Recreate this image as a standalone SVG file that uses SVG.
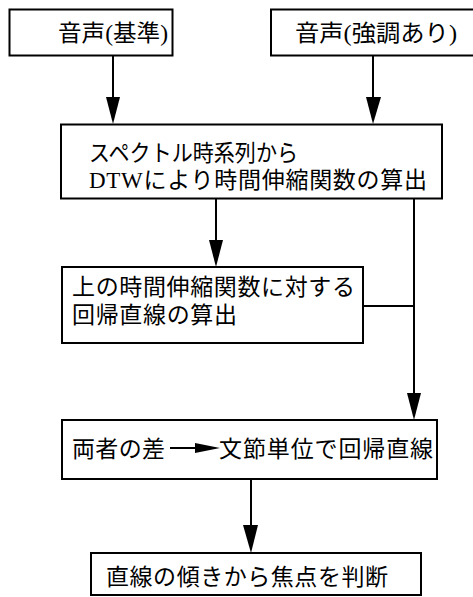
<svg xmlns="http://www.w3.org/2000/svg" width="473" height="597" viewBox="0 0 473 597">
<style>
.box{fill:#fff;stroke:#000;stroke-width:2}
.ln{stroke:#000;stroke-width:2;fill:none}
.hd{fill:#000;stroke:none}
text{font-family:"Liberation Serif","Noto Sans CJK JP",serif;font-size:23px;fill:#000}
</style>
<rect width="473" height="597" fill="#fff"/>
<g id="connectors">
<line class="ln" x1="113" y1="56" x2="113" y2="100"/>
<polygon class="hd" points="106,97 120,97 113,124"/>
<line class="ln" x1="373" y1="56" x2="373" y2="100"/>
<polygon class="hd" points="366,97 381,97 373,124"/>
<line class="ln" x1="216" y1="198" x2="216" y2="243"/>
<polygon class="hd" points="209,240 223,240 216,267"/>
<line class="ln" x1="414" y1="198" x2="414" y2="396"/>
<polygon class="hd" points="407,393 421,393 414,420"/>
<line class="ln" x1="363" y1="306" x2="414" y2="306"/>
<line class="ln" x1="251" y1="479" x2="251" y2="528"/>
<polygon class="hd" points="243,525 258,525 251,553"/>
</g>
<g id="n1">
<rect class="box" x="9.5" y="9.5" width="163" height="46"/>
<text x="58" y="41" textLength="110" lengthAdjust="spacingAndGlyphs">音声(基準)</text>
</g>
<g id="n2">
<rect class="box" x="271" y="9.5" width="215" height="46"/>
<text x="295" y="41" textLength="162" lengthAdjust="spacingAndGlyphs">音声(強調あり)</text>
</g>
<g id="n3">
<rect class="box" x="61" y="124.5" width="381" height="74"/>
<text x="89" y="161" textLength="209" lengthAdjust="spacingAndGlyphs">スペクトル時系列から</text>
<text x="89" y="188" textLength="338" lengthAdjust="spacing">DTWにより時間伸縮関数の算出</text>
</g>
<g id="n4">
<rect class="box" x="62" y="267" width="301" height="76"/>
<text x="72" y="295" textLength="283" lengthAdjust="spacing">上の時間伸縮関数に対する</text>
<text x="72" y="323" textLength="165" lengthAdjust="spacing">回帰直線の算出</text>
</g>
<g id="n5">
<rect class="box" x="62" y="420" width="375" height="59"/>
<text x="72" y="457" textLength="93" lengthAdjust="spacing">両者の差</text>
<line class="ln" x1="170" y1="448" x2="197" y2="448"/>
<polygon class="hd" points="195,443 195,453 220,448"/>
<text x="219" y="457" textLength="214" lengthAdjust="spacing">文節単位で回帰直線</text>
</g>
<g id="n6">
<rect class="box" x="91" y="553" width="330" height="42"/>
<text x="106" y="585" textLength="282" lengthAdjust="spacing">直線の傾きから焦点を判断</text>
</g>
</svg>
